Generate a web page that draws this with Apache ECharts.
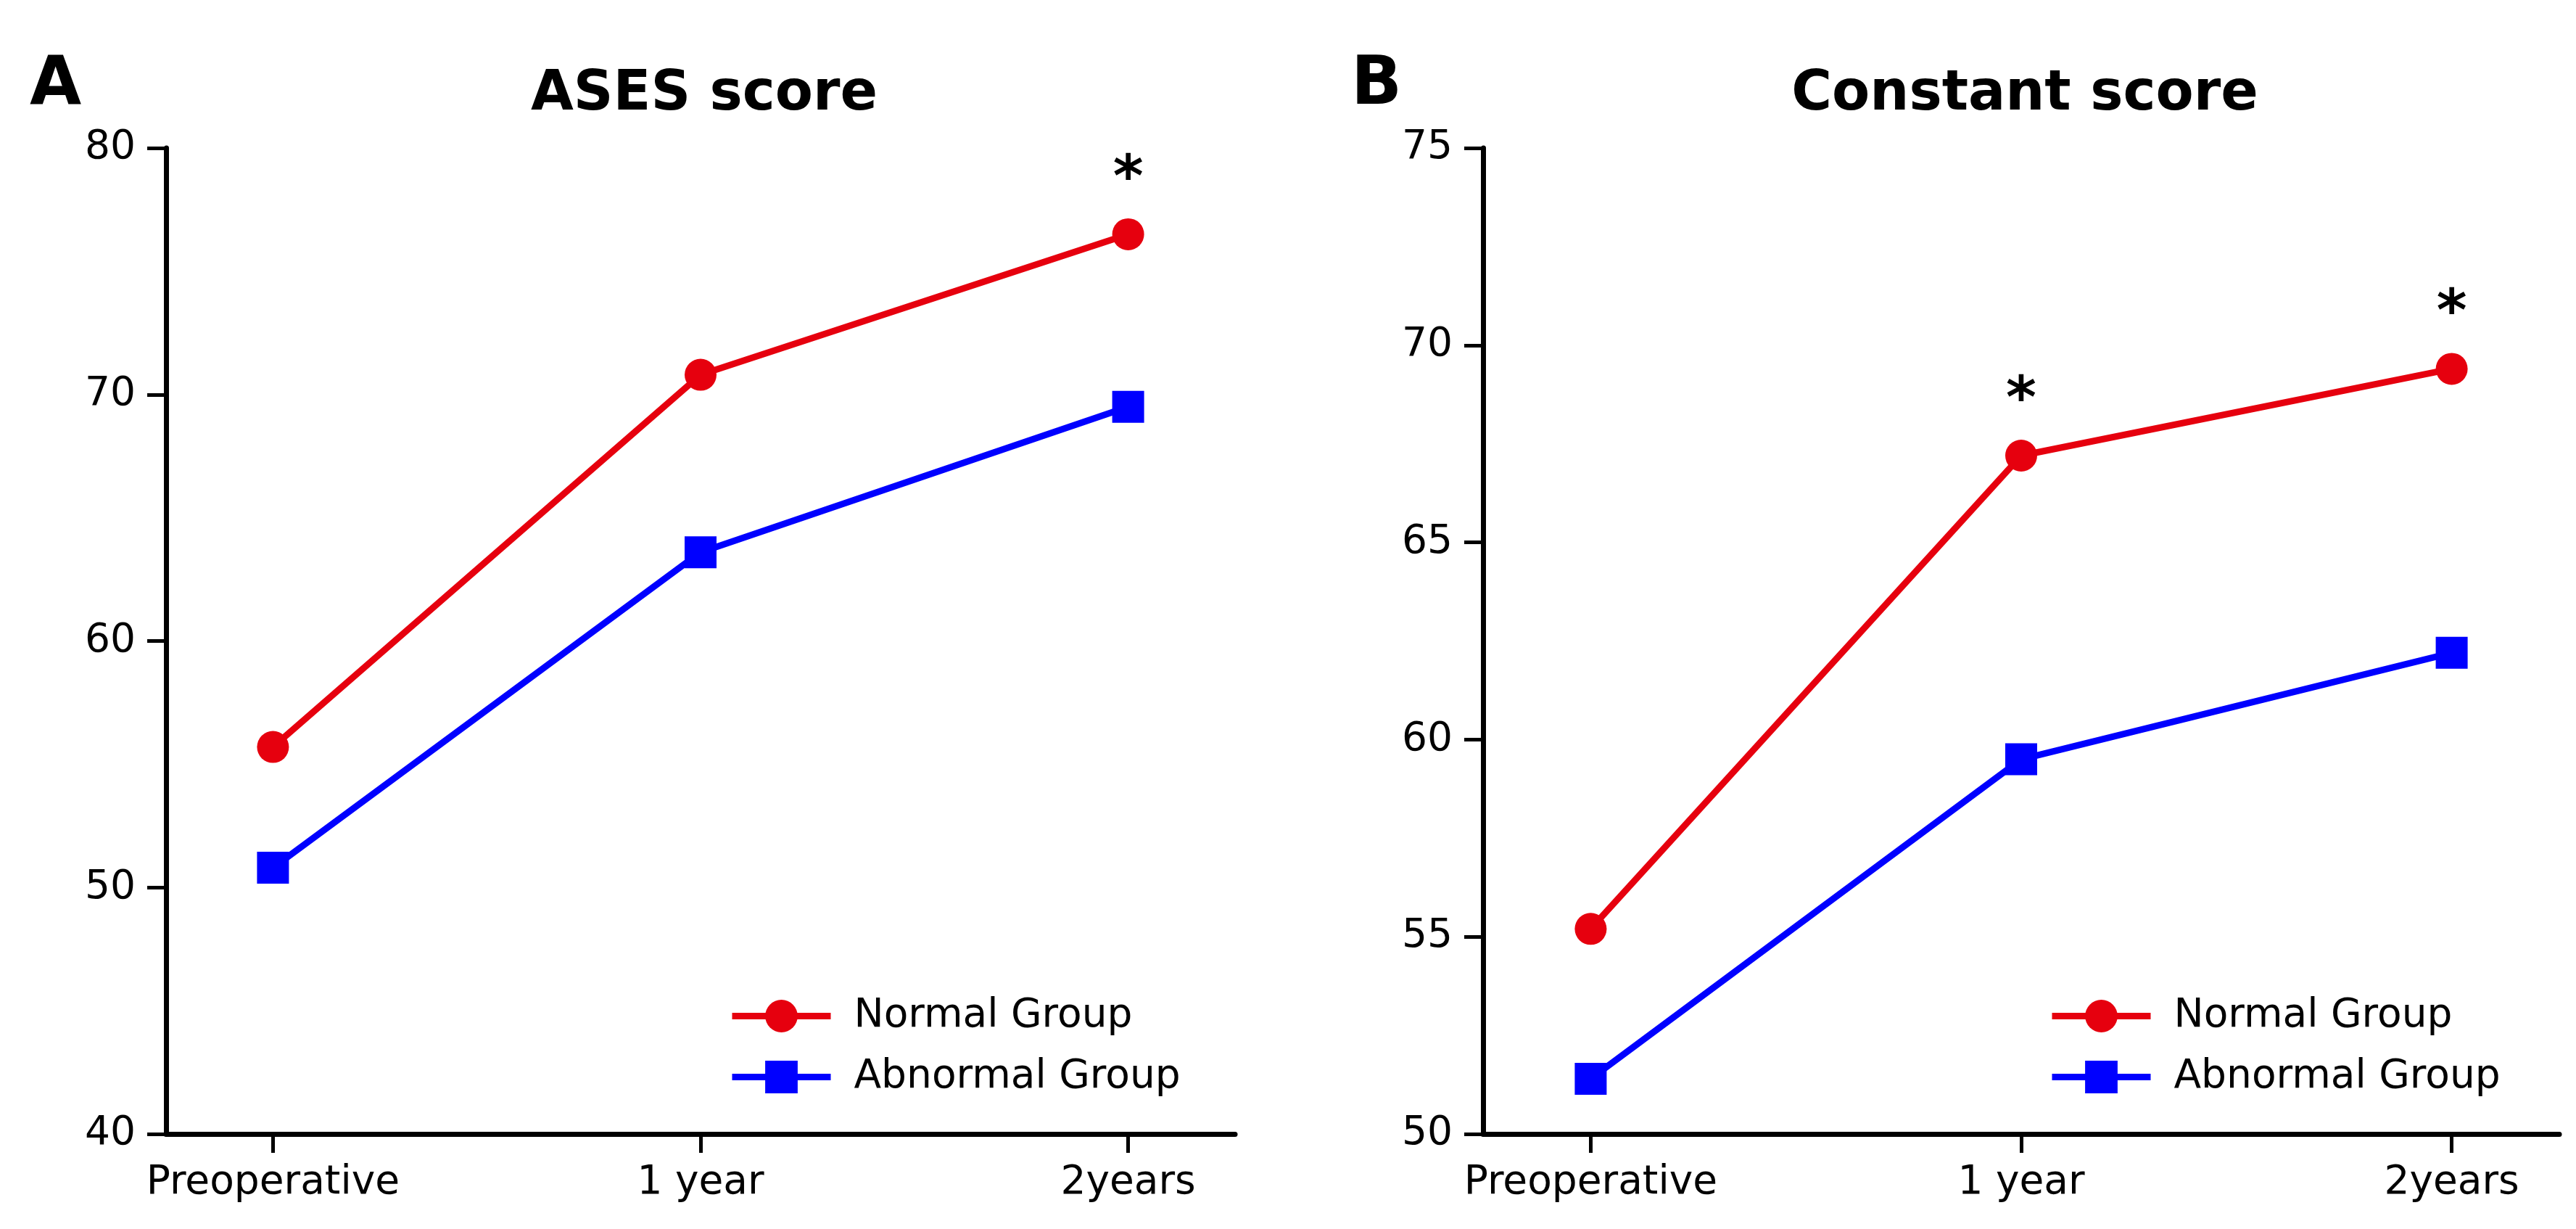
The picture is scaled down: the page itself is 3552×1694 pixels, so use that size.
<!DOCTYPE html>
<html>
<head>
<meta charset="utf-8">
<script src="https://cdn.jsdelivr.net/npm/echarts@6/dist/echarts.min.js"></script>
<style>
  html, body { margin: 0; padding: 0; background: #fff; }
  #chart { width: 3552px; height: 1694px; }
</style>
</head>
<body>
<div id="chart"></div>
<script>
const categories = ['Preoperative', '1 year', '2years']
const groupNames = ['Normal Group', 'Abnormal Group']

// panel A: ASES score
const asesNormal = [55.7, 70.8, 76.5]
const asesAbnormal = [50.8, 63.6, 69.5]
const asesSig = [false, false, true]

// panel B: Constant score
const constantNormal = [55.2, 67.2, 69.4]
const constantAbnormal = [51.4, 59.5, 62.2]
const constantSig = [false, true, true]

const RED = '#e6000e'
const BLUE = '#0000ff'
const FONT = 'DejaVu Sans'

const chart = echarts.init(document.getElementById('chart'))

function toPoints(values, sig) {
  return values.map((v, i) => ({
    value: [i, v],
    label: sig ? { show: sig[i] } : undefined
  }))
}

function xAxis(gridIndex) {
  return {
    type: 'value', gridIndex, min: -0.25, max: 2.25,
    splitLine: { show: false },
    axisLine: { onZero: false, lineStyle: { color: '#000', width: 7 } },
    axisTick: { customValues: [0, 1, 2], length: 26, lineStyle: { color: '#000', width: 5 } },
    axisLabel: {
      customValues: [0, 1, 2], margin: 40,
      formatter: v => categories[v] ?? '',
      color: '#000', fontSize: 55, fontFamily: FONT
    }
  }
}

function yAxis(gridIndex, min, max, interval) {
  return {
    type: 'value', gridIndex, min, max, interval,
    splitLine: { show: false },
    axisLine: { show: true, onZero: false, lineStyle: { color: '#000', width: 7 } },
    axisTick: { show: true, length: 26, lineStyle: { color: '#000', width: 5 } },
    axisLabel: { margin: 42, color: '#000', fontSize: 55, fontFamily: FONT }
  }
}

const sigLabel = {
  show: false, position: 'top', distance: 12,
  formatter: '*', color: '#000', fontSize: 80, fontWeight: 'bold', fontFamily: FONT
}

function lineSeries(name, idx, values, color, symbol, sig) {
  return {
    name, type: 'line', xAxisIndex: idx, yAxisIndex: idx,
    data: toPoints(values, sig),
    symbol, symbolSize: 44,
    lineStyle: { color, width: 9 },
    itemStyle: { color },
    label: sig ? sigLabel : { show: false },
    z: name === groupNames[0] ? 3 : 2
  }
}

function legend(left) {
  return {
    data: groupNames, orient: 'vertical', left, top: 1368,
    itemWidth: 136, itemHeight: 56, itemGap: 29,
    lineStyle: { width: 9 },
    textStyle: { color: '#000', fontSize: 55, fontFamily: FONT, padding: [0, 0, 0, 27] }
  }
}

chart.setOption({
  animation: false,
  backgroundColor: '#fff',
  title: [
    { text: 'A', left: 36, top: 68, textStyle: { fontSize: 92, fontWeight: 'bold', fontFamily: FONT, color: '#000' } },
    { text: 'B', left: 1858, top: 68, textStyle: { fontSize: 92, fontWeight: 'bold', fontFamily: FONT, color: '#000' } },
    { text: 'ASES score', left: 966, top: 88, textAlign: 'center', textStyle: { fontSize: 76, fontWeight: 'bold', fontFamily: FONT, color: '#000' } },
    { text: 'Constant score', left: 2787, top: 88, textAlign: 'center', textStyle: { fontSize: 76, fontWeight: 'bold', fontFamily: FONT, color: '#000' } }
  ],
  grid: [
    { left: 229, top: 204, width: 1474, height: 1359 },
    { left: 2045, top: 204, width: 1484, height: 1359 }
  ],
  xAxis: [xAxis(0), xAxis(1)],
  yAxis: [yAxis(0, 40, 80, 10), yAxis(1, 50, 75, 5)],
  legend: [legend(1000), legend(2820)],
  series: [
    lineSeries(groupNames[0], 0, asesNormal, RED, 'circle', asesSig),
    lineSeries(groupNames[1], 0, asesAbnormal, BLUE, 'rect', null),
    lineSeries(groupNames[0], 1, constantNormal, RED, 'circle', constantSig),
    lineSeries(groupNames[1], 1, constantAbnormal, BLUE, 'rect', null)
  ]
})
</script>
</body>
</html>
